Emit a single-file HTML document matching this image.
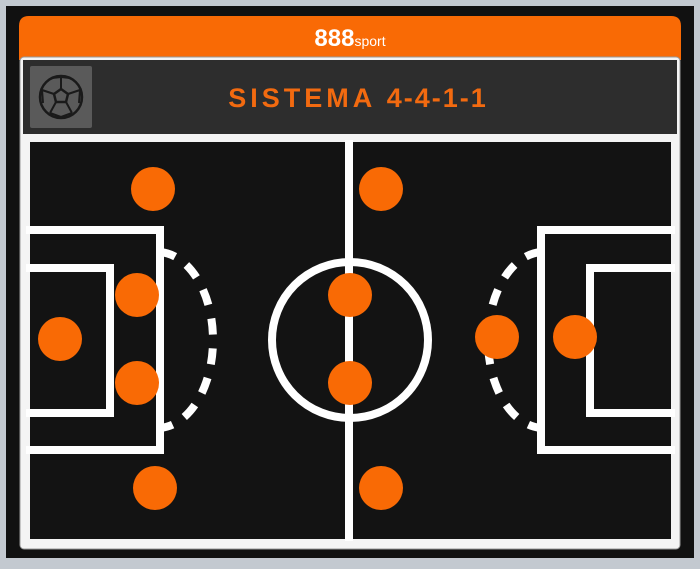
<!DOCTYPE html>
<html><head><style>
body{margin:0;width:700px;height:564px;background:#c3c9d0;overflow:hidden;font-family:"Liberation Sans",sans-serif}
</style></head><body>
<svg width="700" height="564" viewBox="0 0 700 564" xmlns="http://www.w3.org/2000/svg">
<rect x="6" y="6" width="688" height="552" fill="#111"/>
<path d="M19 60 V26 Q19 16 29 16 H671 Q681 16 681 26 V60 Z" fill="#f96a05"/>
<text x="350" y="46" text-anchor="middle" fill="#fff" font-family="Liberation Sans" font-weight="bold" font-size="24">888<tspan font-weight="normal" font-size="14">sport</tspan></text>
<rect x="20" y="57" width="660" height="492" rx="4" fill="#f4f4f4" stroke="#999" stroke-width="1"/>
<rect x="23" y="60" width="654" height="74" fill="#2d2d2d"/>
<rect x="30" y="66" width="62" height="62" rx="2" fill="#5a5a5a"/>
<circle cx="61" cy="97" r="21" fill="none" stroke="#1a1a1a" stroke-width="2.5"/>
<polygon points="61,89 68,94 66,102 56,102 54,94" fill="none" stroke="#1a1a1a" stroke-width="2.5"/>
<path d="M61 89 V77 M68 94 L80 90 M66 102 L72 113 M56 102 L50 113 M54 94 L42 90 M52 78 L61 77 L70 78 M80 90 L79 103 M42 90 L43 103 M50 113 L61 117 L72 113" fill="none" stroke="#1a1a1a" stroke-width="2"/>
<text x="358" y="107" text-anchor="middle" fill="#f26a10" font-weight="bold" font-size="27" letter-spacing="4">SISTEMA <tspan letter-spacing="2">4-4-1-1</tspan></text>
<rect x="30" y="142" width="641" height="397" fill="#131313"/>
<g fill="none" stroke="#fff" stroke-width="8">
<line x1="349" y1="140" x2="349" y2="541"/>
<circle cx="350" cy="340" r="78"/>
<path d="M26 230 H160 V450 H26"/>
<path d="M26 268 H110 V413 H26"/>
<path d="M675 230 H541 V450 H675"/>
<path d="M675 268 H590 V413 H675"/>
<path d="M160 252 A56 88 0 0 1 213 340 A56 88 0 0 1 160 428" stroke-dasharray="16 14"/>
<path d="M541 252 A56 88 0 0 0 488 340 A56 88 0 0 0 541 428" stroke-dasharray="16 14"/>
</g>
<g fill="#f96a05">
<circle cx="153" cy="189" r="22"/><circle cx="381" cy="189" r="22"/>
<circle cx="137" cy="295" r="22"/><circle cx="350" cy="295" r="22"/>
<circle cx="60" cy="339" r="22"/><circle cx="497" cy="337" r="22"/><circle cx="575" cy="337" r="22"/>
<circle cx="137" cy="383" r="22"/><circle cx="350" cy="383" r="22"/>
<circle cx="155" cy="488" r="22"/><circle cx="381" cy="488" r="22"/>
</g>
</svg>
</body></html>
